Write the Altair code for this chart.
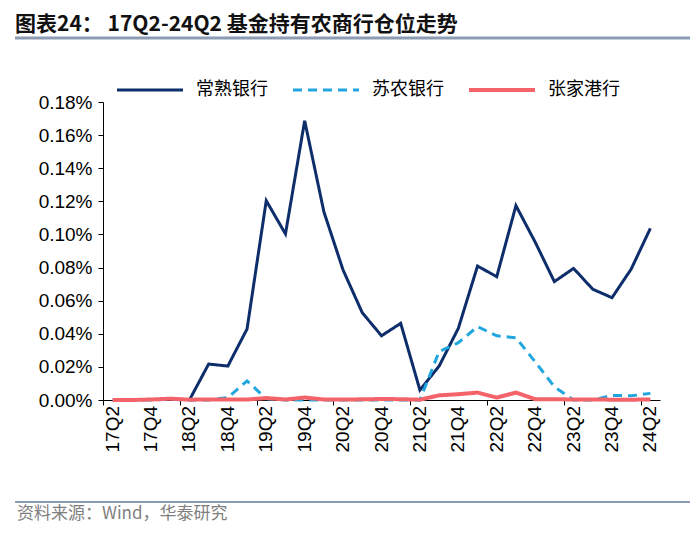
import altair as alt
import pandas as pd

title_text = "图表24：  17Q2-24Q2 基金持有农商行仓位走势"
source_text = "资料来源：Wind，华泰研究"

quarters = ["17Q2", "17Q3", "17Q4", "18Q1", "18Q2", "18Q3", "18Q4", "19Q1",
            "19Q2", "19Q3", "19Q4", "20Q1", "20Q2", "20Q3", "20Q4", "21Q1",
            "21Q2", "21Q3", "21Q4", "22Q1", "22Q2", "22Q3", "22Q4", "23Q1",
            "23Q2", "23Q3", "23Q4", "24Q1", "24Q2"]

series = ["常熟银行", "苏农银行", "张家港行"]

# values in percent (0.1204 means 0.1204%)
changshu = [None, None, None, None, 0.0, 0.0217, 0.0205, 0.0429, 0.1204, 0.1003,
            0.1687, 0.1137, 0.0785, 0.0527, 0.0388, 0.0463, 0.0060, 0.0205, 0.0433,
            0.0809, 0.0745, 0.1174, 0.0954, 0.0715, 0.0795, 0.0669, 0.0618, 0.0791,
            0.1037]
sunong = [0.0, 0.0, 0.0, 0.0003, 0.0, 0.0, 0.0015, 0.0115, 0.0008, 0.0, 0.0, 0.0,
          0.0, 0.0, 0.0, 0.0, 0.0, 0.0292, 0.0346, 0.0443, 0.0388, 0.0376, 0.0231,
          0.0080, 0.0, 0.0, 0.0028, 0.0025, 0.0040]
zhangjiagang = [0.0, 0.0, 0.0003, 0.0008, 0.0002, 0.0003, 0.0003, 0.0003, 0.0012,
                0.0003, 0.0015, 0.0003, 0.0003, 0.0004, 0.0006, 0.0005, 0.0002,
                0.0028, 0.0035, 0.0045, 0.0015, 0.0045, 0.0005, 0.0005, 0.0003,
                0.0003, 0.0002, 0.0002, 0.0003]

y_ticks = [0.0, 0.0002, 0.0004, 0.0006, 0.0008, 0.0010, 0.0012, 0.0014, 0.0016, 0.0018]

colors = ["#0d2d6b", "#22a6df", "#f4636a"]
dashes = [[1, 0], [9, 6], [1, 0]]
widths = [3, 3, 4]

n = len(quarters)
x_scale = alt.Scale(domain=[-0.5, n - 0.5], nice=False, zero=False)
y_scale = alt.Scale(domain=[0, 0.0018], nice=False, zero=True)
boundaries = [i - 0.5 for i in range(n + 1)]


def series_df(vals):
    return pd.DataFrame([{"idx": i, "quarter": q, "value": v / 100.0}
                         for i, (q, v) in enumerate(zip(quarters, vals)) if v is not None])


layers = []
for k, vals in enumerate([changshu, sunong, zhangjiagang]):
    enc_x = alt.X("idx:Q", scale=x_scale,
                  axis=alt.Axis(title=None, values=boundaries, labels=False, tickSize=5,
                                grid=False, domainColor="#000000", tickColor="#000000"))
    enc_y = alt.Y("value:Q", scale=y_scale,
                  axis=alt.Axis(title=None, values=y_ticks, format=".2%", grid=False,
                                tickSize=5, domainColor="#000000", tickColor="#000000",
                                labelFont="Liberation Sans", labelFontSize=19,
                                labelColor="#000000", labelPadding=6))
    layers.append(
        alt.Chart(series_df(vals)).mark_line(
            color=colors[k], strokeDash=dashes[k], strokeWidth=widths[k]
        ).encode(x=enc_x, y=enc_y)
    )

# x tick labels (every second quarter) through the x scale
lab_df = pd.DataFrame([{"idx": i, "quarter": q} for i, q in enumerate(quarters)
                       if q.endswith("Q2") or q.endswith("Q4")])
xlabels = alt.Chart(lab_df).mark_text(
    angle=270, align="right", baseline="middle", font="Liberation Sans",
    fontSize=19, color="#000000"
).encode(x=alt.X("idx:Q", scale=x_scale), y=alt.value(304), text="quarter:N")

one = pd.DataFrame({"a": [0]})

# legend
leg_sym_x = [14, 190, 366]
legend_layers = []
for k, name in enumerate(series):
    x0 = leg_sym_x[k]
    legend_layers.append(
        alt.Chart(one).mark_rule(color=colors[k], strokeDash=dashes[k],
                                 strokeWidth=widths[k]).encode(
            x=alt.value(x0), x2=alt.value(x0 + 66), y=alt.value(-12)))
    legend_layers.append(
        alt.Chart(pd.DataFrame({"t": [name]})).mark_text(
            align="left", baseline="middle", font="Noto Sans CJK SC", fontSize=18,
            color="#000000").encode(x=alt.value(x0 + 79), y=alt.value(-12), text="t:N"))

title = alt.Chart(pd.DataFrame({"t": [title_text]})).mark_text(
    align="left", baseline="middle", font="Noto Sans CJK SC", fontSize=21,
    fontWeight="bold", color="#111111"
).encode(x=alt.value(-88), y=alt.value(-77), text="t:N")

title_rule = alt.Chart(one).mark_rule(color="#8c9cb4", strokeWidth=3).encode(
    x=alt.value(-88), x2=alt.value(592), y=alt.value(-64))

foot_rule = alt.Chart(one).mark_rule(color="#8c9cb4", strokeWidth=2).encode(
    x=alt.value(-88), x2=alt.value(592), y=alt.value(400))

source = alt.Chart(pd.DataFrame({"t": [source_text]})).mark_text(
    align="left", baseline="middle", font="Noto Sans CJK SC", fontSize=17,
    color="#7f7f7f"
).encode(x=alt.value(-86), y=alt.value(412), text="t:N")

chart = alt.layer(*layers, xlabels, *legend_layers, title, title_rule, foot_rule,
                  source).properties(
    width=557, height=298,
    autosize=alt.AutoSizeParams(type="none"),
    padding={"left": 95, "top": 94, "right": 30, "bottom": 127},
).configure_view(stroke=None)

chart.save("out.html", embed_options={"renderer": "svg", "actions": False})
